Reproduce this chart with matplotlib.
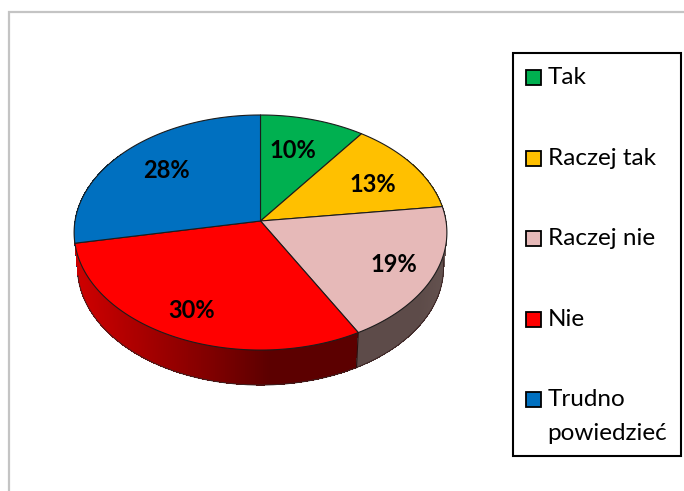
import numpy as np
import matplotlib
matplotlib.use("Agg")
import matplotlib.pyplot as plt
from matplotlib.patches import Polygon, Rectangle
from matplotlib.colors import to_rgb

categories = ["Tak", "Raczej tak", "Raczej nie", "Nie", "Trudno\npowiedzieć"]
values = [10, 13, 19, 30, 28]
colors = ["#00B050", "#FFC000", "#E6B9B8", "#FF0000", "#0070C0"]

plt.rcParams["font.family"] = ["Lato", "DejaVu Sans"]
W, H = 684, 491
fig = plt.figure(figsize=(W / 100, H / 100), dpi=100)
ax = fig.add_axes([0, 0, 1, 1])
ax.set_xlim(0, W)
ax.set_ylim(H, 0)
ax.axis("off")

# perspective projection of the pie disc
CX, CY, BX, BY, K, DEPTH, SHRINK = 260.5, 221, 185.5, 116.4, 0.098, 35, 0.982


def project(theta, r=1.0):
    u, v = r * np.sin(theta), r * np.cos(theta)
    den = 1 + K * v
    return CX + BX * u / den, CY - BY * v / den


def project_low(theta):
    x, y = project(theta)
    return CX + (x - CX) * SHRINK, y + DEPTH


# outer frame (only top and left edges are visible)
ax.plot([8.5, 8.5, W], [H, 11.5, 11.5], color="#c4c4c4", lw=1.6, solid_joinstyle="miter")

shares = np.array(values, dtype=float) / sum(values)
edges = np.concatenate([[0], np.cumsum(shares)]) * 2 * np.pi


def side_shade(i, x):
    base = np.array(to_rgb(colors[i]))
    # darker toward lower right, as in the original's lit side shading
    t = np.clip((x - 80) / 190, 0, 1)
    if i == 3:
        return base * (0.80 - 0.44 * t)
    if i == 2:
        return np.array([0.365, 0.295, 0.285]) + 0.03 * np.clip((x - 420) / 30, 0, 1)
    return base * 0.6


# side wall: painted from the outer ends toward the front so strips overlap
for i in range(len(values)):
    a0, a1 = edges[i], edges[i + 1]
    n = max(2, int((a1 - a0) * 100))
    t = np.linspace(a0, a1, n + 1)
    x, y = project(t)
    xl, yl = project_low(t)
    for j in range(n):
        if 0.3 * np.pi < t[j] < 1.7 * np.pi:
            xm = (x[j] + x[j + 1]) / 2
            c = side_shade(i, xm)
            k = min(j + 3, n)
            pts = np.r_[np.column_stack([x[j:k + 1], y[j:k + 1]]),
                        np.column_stack([xl[j:k + 1], yl[j:k + 1]])[::-1]]
            ax.add_patch(Polygon(pts, closed=True, facecolor=c, edgecolor="none",
                                 antialiased=False, zorder=2 + 0.001 * j))

# lower rim and the vertical seam
t = np.linspace(edges[2] - 0.1, edges[4] + 0.02, 300)
x, y = project_low(t)
ax.plot(x, y, color="#3a2222", lw=0.7, zorder=3)
xs, ys = project(edges[3])
xl, yl = project_low(edges[3])
ax.plot([xs, xl], [ys, yl], color="#2a1010", lw=0.8, zorder=3)

# top surface
for i in range(len(values)):
    t = np.linspace(edges[i], edges[i + 1], 120)
    x, y = project(t)
    pts = np.column_stack([np.r_[CX, x], np.r_[CY, y]])
    ax.add_patch(Polygon(pts, closed=True, facecolor=colors[i], edgecolor="#1c1c1c",
                         lw=0.8, joinstyle="round", zorder=4))

# percentage labels
lab_x = [293, 373, 394, 192, 166]
lab_y = [150, 184, 265, 310, 171]
for v, lx, ly in zip(values, lab_x, lab_y):
    ax.text(lx, ly, f"{v}%", ha="center", va="center", fontsize=17, fontweight="bold",
            color="black", zorder=5)

# legend box
ax.add_patch(Rectangle((512.5, 53), 168, 403, facecolor="white", edgecolor="black", lw=1.5, zorder=5))
row_y = [77.5, 158.5, 238.5, 319, 399.5]
for name, col, ry in zip(categories, colors, row_y):
    ax.add_patch(Rectangle((525.5, ry - 7.5), 15, 15, facecolor=col, edgecolor="black", lw=1.3, zorder=6))
    for k, line in enumerate(name.split("\n")):
        ax.text(547.5, ry + k * 33.5, line, ha="left", va="center", fontsize=17.5, color="black", zorder=6)

fig.savefig("out.png", dpi=100)
